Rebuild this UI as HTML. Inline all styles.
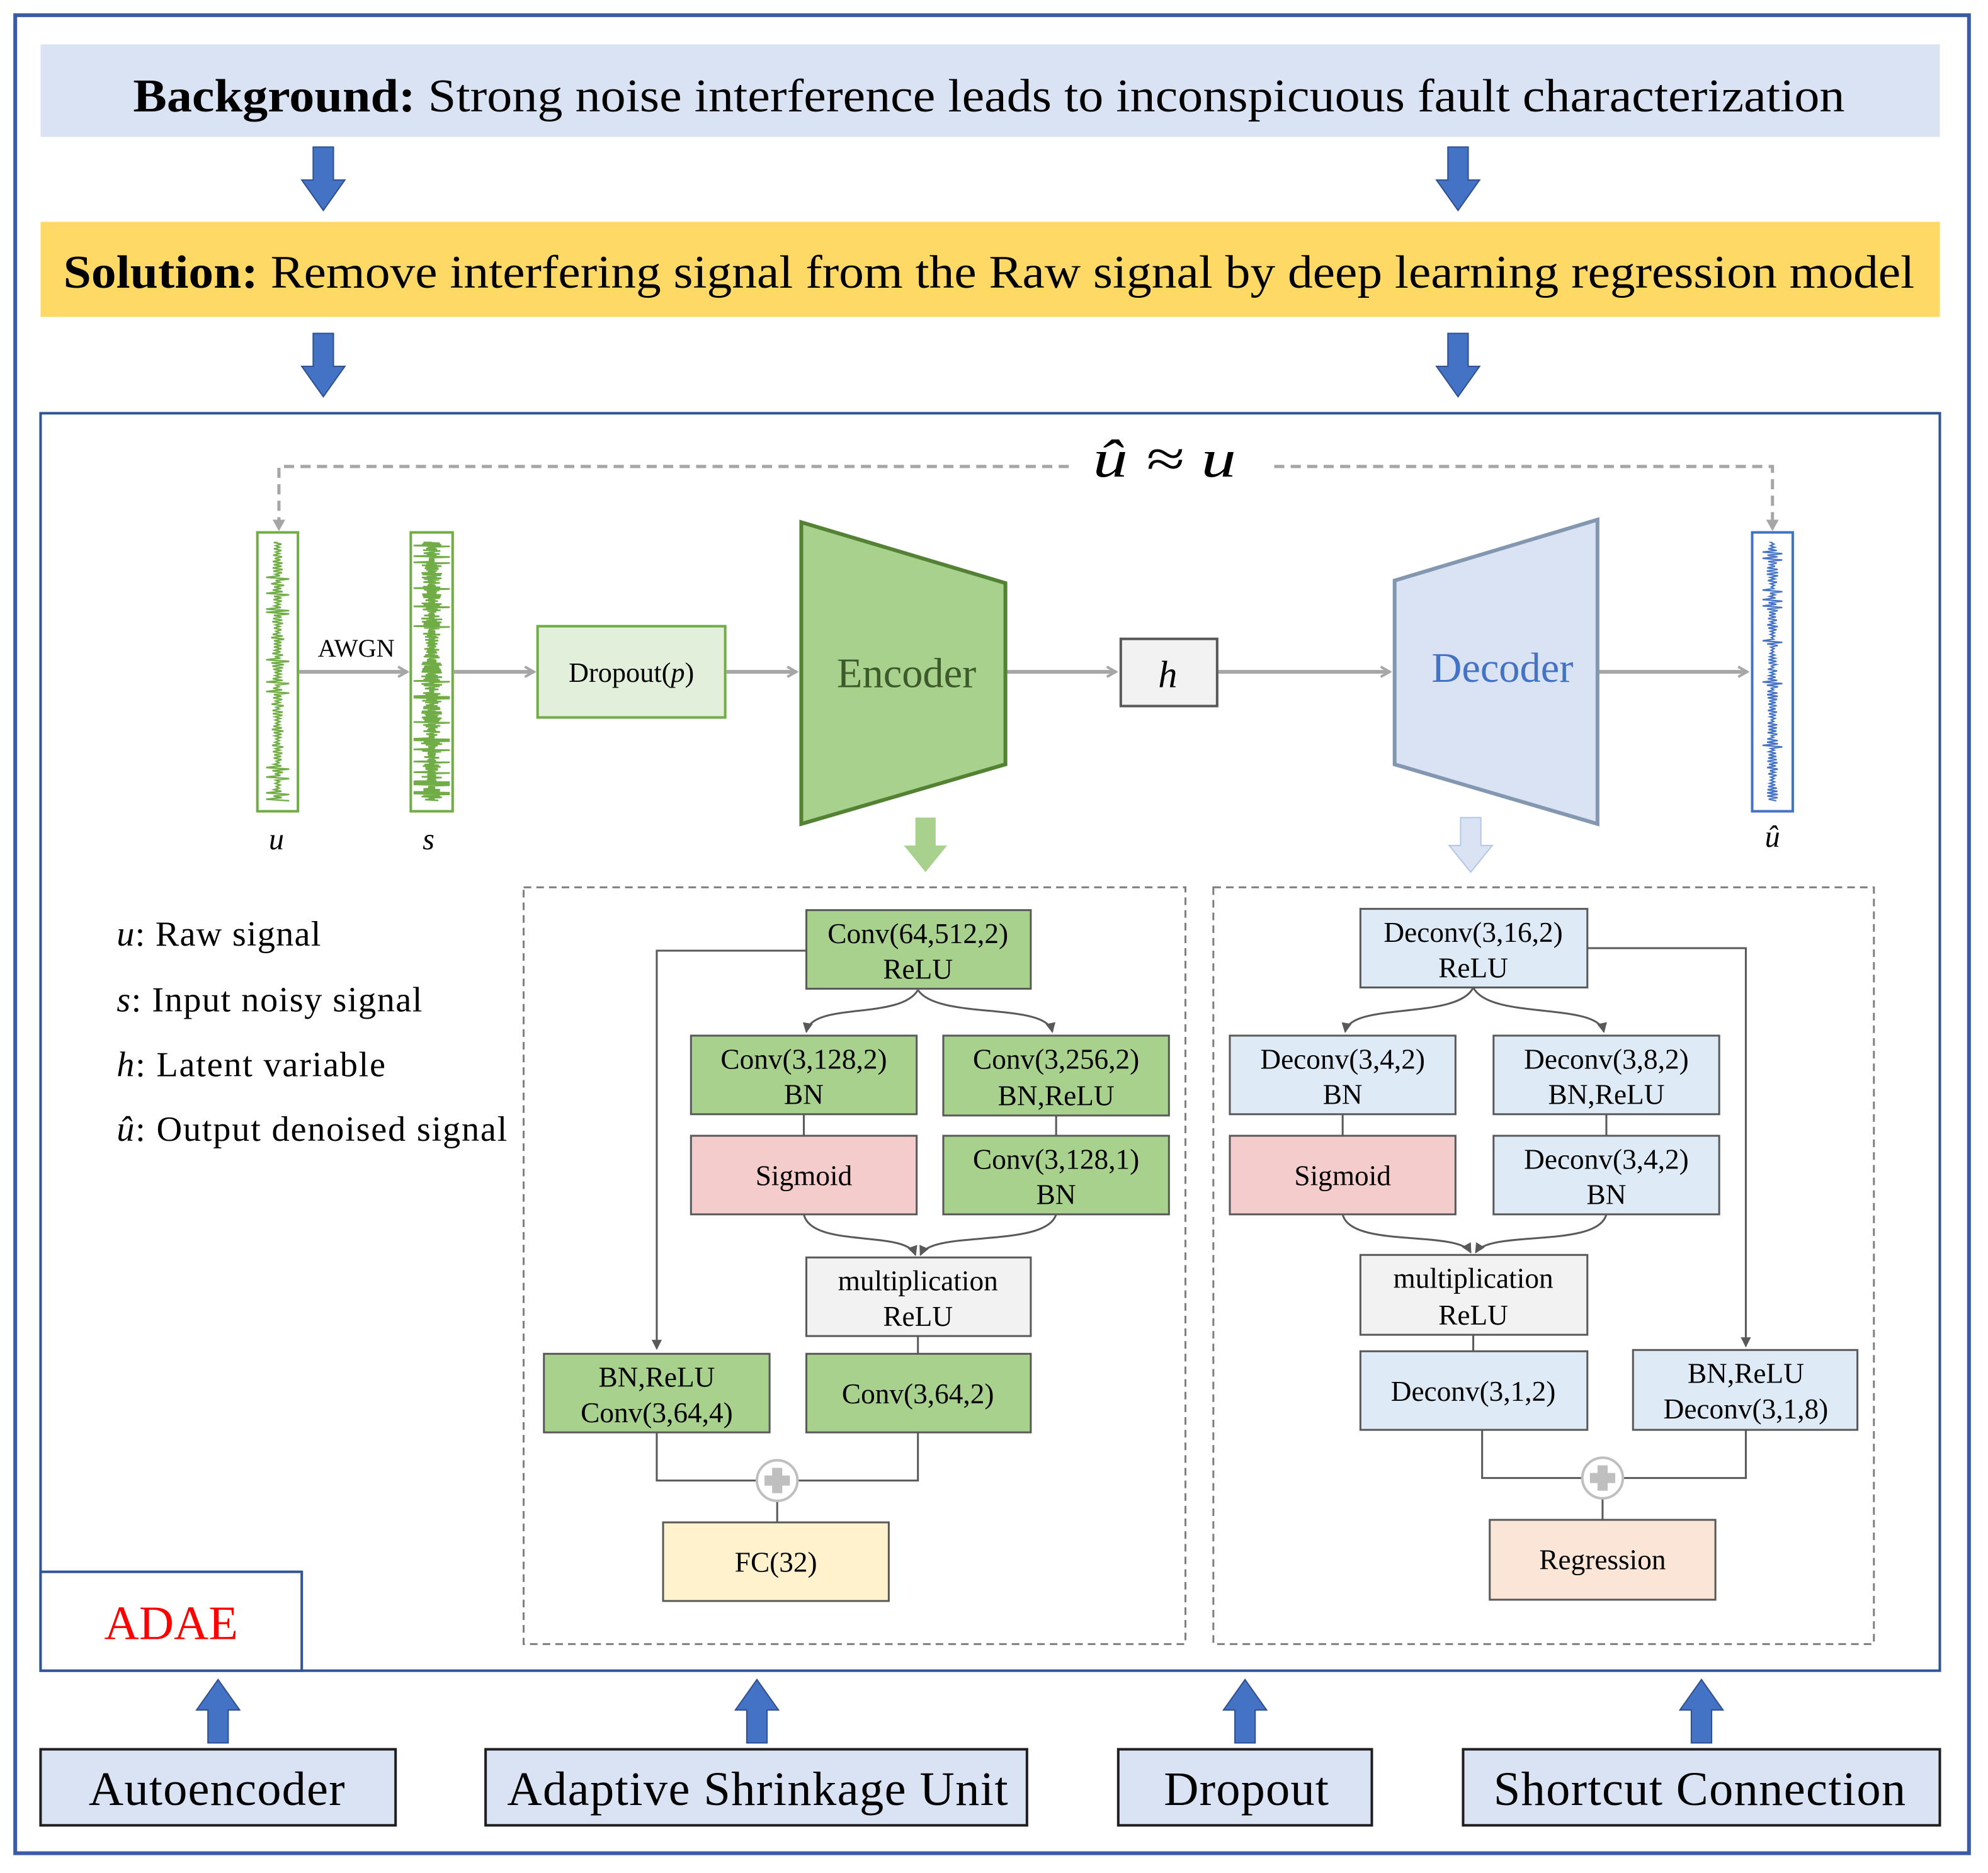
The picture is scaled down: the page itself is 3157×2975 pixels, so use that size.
<!DOCTYPE html>
<html><head><meta charset="utf-8"><style>
html,body{margin:0;padding:0;background:#fff;}
svg{display:block;}
text{font-family:"Liberation Serif",serif;}
</style></head><body>
<svg id="s" xmlns="http://www.w3.org/2000/svg" width="3157" height="2975" viewBox="0 0 1568 1477.6" preserveAspectRatio="none">
<defs>
<marker id="ag" markerWidth="10" markerHeight="10" refX="8" refY="5" orient="auto" markerUnits="userSpaceOnUse"><path d="M1,1 L8,5 L1,9" fill="none" stroke="#a6a6a6" stroke-width="2"/></marker>
<marker id="ad" markerWidth="8" markerHeight="8" refX="7" refY="4" orient="auto" markerUnits="userSpaceOnUse"><path d="M0,0 L8,4 L0,8 z" fill="#595959"/></marker>
<g id="bd"><path d="M-8,0 h16 v26 h9 l-17,24 l-17,-24 h9 z" fill="#4472c4" stroke="#2f4f8f" stroke-width="1"/></g>
<g id="bu"><path d="M-8,50 h16 v-26 h9 l-17,-24 l-17,24 h9 z" fill="#4472c4" stroke="#2f4f8f" stroke-width="1"/></g>
</defs>
<rect x="12" y="12" width="1541" height="1450" fill="#fff" stroke="#3b5ba5" stroke-width="3"/>
<rect x="32" y="35" width="1498" height="73" fill="#dae3f3"/>
<text x="105" y="88" font-size="37" textLength="1350" lengthAdjust="spacingAndGlyphs"><tspan font-weight="bold">Background:</tspan>  Strong noise interference leads to inconspicuous fault characterization</text>
<use href="#bd" x="255" y="116"/><use href="#bd" x="1150" y="116"/>
<rect x="32" y="175" width="1498" height="75" fill="#ffd966"/>
<text x="50" y="227" font-size="37" textLength="1460" lengthAdjust="spacingAndGlyphs"><tspan font-weight="bold">Solution:</tspan> Remove interfering signal from the Raw signal by deep learning regression model</text>
<use href="#bd" x="255" y="263"/><use href="#bd" x="1150" y="263"/>
<rect x="32" y="326" width="1498" height="992" fill="#fff" stroke="#2f5597" stroke-width="2"/>
<rect x="32" y="1240" width="206" height="78" fill="#fff" stroke="#2f5597" stroke-width="2"/>
<text x="135" y="1293" font-size="38" fill="#ff0000" text-anchor="middle">ADAE</text>
<use href="#bu" x="172" y="1325"/><use href="#bu" x="597" y="1325"/><use href="#bu" x="982" y="1325"/><use href="#bu" x="1342" y="1325"/>
<g fill="#dae3f3" stroke="#1f1f1f" stroke-width="2">
<rect x="32" y="1380" width="280" height="60"/><rect x="383" y="1380" width="427" height="60"/><rect x="882" y="1380" width="200" height="60"/><rect x="1154" y="1380" width="376" height="60"/></g>
<g font-size="38" lengthAdjust="spacingAndGlyphs"><text x="70" y="1424" textLength="202">Autoencoder</text><text x="400" y="1424" textLength="395">Adaptive Shrinkage Unit</text><text x="918" y="1424" textLength="130">Dropout</text><text x="1178" y="1424" textLength="325">Shortcut Connection</text></g>

<path d="M220,416 V368 H845 M1005,368 H1398 V416" fill="none" stroke="#a6a6a6" stroke-width="2.5" stroke-dasharray="8,5"/>
<path d="M215,410 l5,9 l5,-9 z M1393,410 l5,9 l5,-9 z" fill="#a6a6a6"/>
<text x="862" y="376" font-size="42" font-style="italic" textLength="113" lengthAdjust="spacingAndGlyphs">û ≈ u</text>

<rect x="203" y="420" width="32" height="220" fill="#fff" stroke="#70ad47" stroke-width="2"/>
<rect x="324" y="420" width="33" height="220" fill="#fff" stroke="#70ad47" stroke-width="2"/>
<rect x="1382" y="420" width="32" height="220" fill="#fff" stroke="#4472c4" stroke-width="2"/>
<path id="wu" fill="none" stroke="#70ad47" stroke-width="1.2"/>
<path id="ws" fill="none" stroke="#70ad47" stroke-width="1.3"/>
<path id="wh" fill="none" stroke="#4472c4" stroke-width="1.1"/>
<g font-size="24" font-style="italic" text-anchor="middle"><text x="218" y="670">u</text><text x="338" y="670">s</text><text x="1398" y="668">û</text></g>
<g stroke="#a6a6a6" stroke-width="3" marker-end="url(#ag)">
<line x1="236" y1="530" x2="321" y2="530"/><line x1="358" y1="530" x2="421" y2="530"/><line x1="573" y1="530" x2="628" y2="530"/><line x1="794" y1="530" x2="880" y2="530"/><line x1="961" y1="530" x2="1096" y2="530"/><line x1="1261" y1="530" x2="1378" y2="530"/></g>
<text x="281" y="518" font-size="20" text-anchor="middle">AWGN</text>
<rect x="424" y="494" width="148" height="72" fill="#e2efda" stroke="#70ad47" stroke-width="2"/>
<text x="498" y="538" font-size="22" text-anchor="middle">Dropout(<tspan font-style="italic">p</tspan>)</text>
<polygon points="632,412 793,460 793,603 632,650" fill="#a9d18e" stroke="#548235" stroke-width="3"/>
<text x="715" y="542" font-size="33" text-anchor="middle" fill="#3d5a2a">Encoder</text>
<rect x="884" y="504" width="76" height="53" fill="#f2f2f2" stroke="#595959" stroke-width="2"/>
<text x="921" y="542" font-size="30" font-style="italic" text-anchor="middle">h</text>
<polygon points="1100,458 1260,410 1260,650 1100,603" fill="#dae3f3" stroke="#8497b0" stroke-width="3"/>
<text x="1185" y="538" font-size="33" text-anchor="middle" fill="#4472c4">Decoder</text>
<path d="M722,645 h16 v22 h9 l-17,21 l-17,-21 h9 z" fill="#a9d18e"/>
<path d="M1152,645 h16 v22 h9 l-17,21 l-17,-21 h9 z" fill="#dae3f3" stroke="#b4c7e7"/>

<g font-size="28" lengthAdjust="spacingAndGlyphs"><text x="92" y="746" textLength="161"><tspan font-style="italic">u</tspan>: Raw signal</text><text x="92" y="798" textLength="241"><tspan font-style="italic">s</tspan>: Input noisy signal</text><text x="92" y="849" textLength="212"><tspan font-style="italic">h</tspan>: Latent variable</text><text x="92" y="900" textLength="308"><tspan font-style="italic">û</tspan>: Output denoised signal</text></g>

<g fill="none" stroke="#7f7f7f" stroke-width="1.5" stroke-dasharray="6,4"><rect x="413" y="700" width="522" height="597"/><rect x="957" y="700" width="521" height="597"/></g>

<g fill="none" stroke="#595959" stroke-width="1.5">
<path d="M636,750 H518 V1064" marker-end="url(#ad)"/>
<path d="M724,781 C710,805 640,790 636,814" marker-end="url(#ad)"/>
<path d="M724,781 C740,805 825,790 830,814" marker-end="url(#ad)"/>
<path d="M634,879 V896 M833,880 V896 M724,1054 V1068"/>
<path d="M634,958 C640,985 715,970 722,990" marker-end="url(#ad)"/>
<path d="M833,958 C825,985 735,970 726,990" marker-end="url(#ad)"/>
<path d="M518,1130 V1168 H597 M724,1130 V1168 H629 M613,1184 V1201"/>
<path d="M1252,748 H1377 V1062" marker-end="url(#ad)"/>
<path d="M1162,779 C1150,805 1065,790 1061,814" marker-end="url(#ad)"/>
<path d="M1162,779 C1175,805 1260,790 1265,814" marker-end="url(#ad)"/>
<path d="M1059,879 V896 M1267,879 V896 M1162,1053 V1066"/>
<path d="M1059,958 C1065,985 1150,970 1160,988" marker-end="url(#ad)"/>
<path d="M1267,958 C1260,985 1175,970 1164,988" marker-end="url(#ad)"/>
<path d="M1169,1128 V1166 H1248 M1377,1128 V1166 H1280 M1264,1182 V1199"/>
</g>
<g stroke="#bfbfbf" stroke-width="2" fill="#fff"><circle cx="613" cy="1168" r="16"/><circle cx="1264" cy="1166" r="16"/></g>
<path d="M609,1158 h8 v6 h6 v8 h-6 v6 h-8 v-6 h-6 v-8 h6 z M1260,1156 h8 v6 h6 v8 h-6 v6 h-8 v-6 h-6 v-8 h6 z" fill="#bfbfbf"/>

<g stroke="#595959" stroke-width="1.5">
<rect x="636" y="718" width="177" height="62" fill="#a9d18e"/>
<rect x="545" y="817" width="178" height="62" fill="#a9d18e"/>
<rect x="744" y="817" width="178" height="63" fill="#a9d18e"/>
<rect x="545" y="896" width="178" height="62" fill="#f4cccc"/>
<rect x="744" y="896" width="178" height="62" fill="#a9d18e"/>
<rect x="636" y="992" width="177" height="62" fill="#f2f2f2"/>
<rect x="429" y="1068" width="178" height="62" fill="#a9d18e"/>
<rect x="636" y="1068" width="177" height="62" fill="#a9d18e"/>
<rect x="523" y="1201" width="178" height="62" fill="#fff2cc"/>
<rect x="1073" y="717" width="179" height="62" fill="#deebf7"/>
<rect x="970" y="817" width="178" height="62" fill="#deebf7"/>
<rect x="1178" y="817" width="178" height="62" fill="#deebf7"/>
<rect x="970" y="896" width="178" height="62" fill="#f4cccc"/>
<rect x="1178" y="896" width="178" height="62" fill="#deebf7"/>
<rect x="1073" y="990" width="179" height="63" fill="#f2f2f2"/>
<rect x="1073" y="1066" width="179" height="62" fill="#deebf7"/>
<rect x="1288" y="1065" width="177" height="63" fill="#deebf7"/>
<rect x="1175" y="1199" width="178" height="63" fill="#fbe5d6"/>
</g>
<g font-size="22.5" text-anchor="middle">
<text x="724" y="744">Conv(64,512,2)</text><text x="724" y="772">ReLU</text>
<text x="634" y="843">Conv(3,128,2)</text><text x="634" y="871">BN</text>
<text x="833" y="843">Conv(3,256,2)</text><text x="833" y="872">BN,ReLU</text>
<text x="634" y="935">Sigmoid</text>
<text x="833" y="922">Conv(3,128,1)</text><text x="833" y="950">BN</text>
<text x="724" y="1018">multiplication</text><text x="724" y="1046">ReLU</text>
<text x="518" y="1094">BN,ReLU</text><text x="518" y="1122">Conv(3,64,4)</text>
<text x="724" y="1107">Conv(3,64,2)</text>
<text x="612" y="1240">FC(32)</text>
<text x="1162" y="743">Deconv(3,16,2)</text><text x="1162" y="771">ReLU</text>
<text x="1059" y="843">Deconv(3,4,2)</text><text x="1059" y="871">BN</text>
<text x="1267" y="843">Deconv(3,8,2)</text><text x="1267" y="871">BN,ReLU</text>
<text x="1059" y="935">Sigmoid</text>
<text x="1267" y="922">Deconv(3,4,2)</text><text x="1267" y="950">BN</text>
<text x="1162" y="1016">multiplication</text><text x="1162" y="1045">ReLU</text>
<text x="1162" y="1105">Deconv(3,1,2)</text>
<text x="1377" y="1091">BN,ReLU</text><text x="1377" y="1119">Deconv(3,1,8)</text>
<text x="1264" y="1238">Regression</text>
</g>
</svg>
<script>
function wave(cx,amp,dense,seed){var d="M"+cx+",428",r=seed;function rnd(){r=(r*9301+49297)%233280;return r/233280;}
for(var y=428;y<=632;y+=dense){var a=amp*(0.15+0.6*rnd());if(rnd()>0.88)a=amp*1.3;d+=" L"+(cx-a).toFixed(1)+","+y+" L"+(cx+a).toFixed(1)+","+(y+dense/2);}
return d;}
document.getElementById("wu").setAttribute("d",wave(219,7,2.5,7));
document.getElementById("ws").setAttribute("d",wave(340.5,11,1.2,13));
document.getElementById("wh").setAttribute("d",wave(1398,6,2.5,21));
</script>
</body></html>
